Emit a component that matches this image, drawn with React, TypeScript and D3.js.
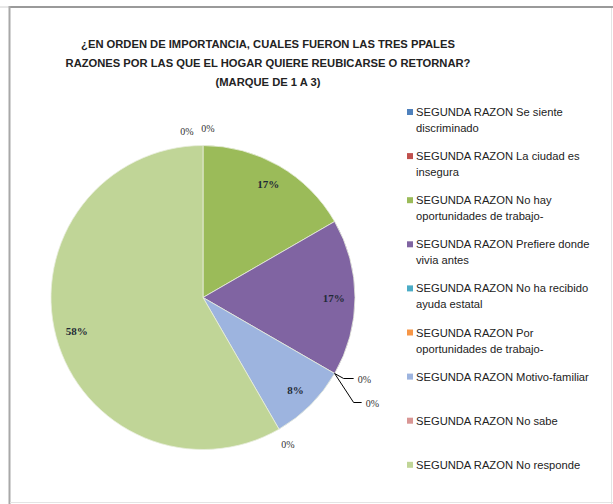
import React from "react";
import * as d3 from "d3";

const titleLines = [
  "¿EN ORDEN DE IMPORTANCIA, CUALES FUERON LAS TRES PPALES",
  "RAZONES POR LAS QUE EL HOGAR QUIERE REUBICARSE O RETORNAR?",
  "(MARQUE DE 1 A 3)",
];

const categories = [
  "SEGUNDA RAZON Se siente discriminado",
  "SEGUNDA RAZON La ciudad es insegura",
  "SEGUNDA RAZON No hay oportunidades de trabajo-",
  "SEGUNDA RAZON Prefiere donde vivia antes",
  "SEGUNDA RAZON No ha recibido ayuda estatal",
  "SEGUNDA RAZON Por oportunidades de trabajo-",
  "SEGUNDA RAZON Motivo-familiar",
  "SEGUNDA RAZON No sabe",
  "SEGUNDA RAZON No responde",
];

// counts (out of 12)
const values = [0, 0, 2, 2, 0, 0, 1, 0, 7];

const colors = [
  "#4F81BD",
  "#C0504D",
  "#9BBB59",
  "#8064A2",
  "#4BACC6",
  "#F79646",
  "#9DB4DF",
  "#D99694",
  "#C0D597",
];

const W = 613;
const H = 504;
const cx = 203;
const cy = 297.5;
const R = 152;

function wrap(s: string, max: number): string[] {
  const words = s.split(" ");
  const lines: string[] = [];
  let cur = "";
  for (const w of words) {
    const next = cur ? cur + " " + w : w;
    if (next.length > max && cur) {
      lines.push(cur);
      cur = w;
    } else cur = next;
  }
  if (cur) lines.push(cur);
  return lines;
}

export default function App() {
  const total = d3.sum(values);
  const pie = d3
    .pie<number>()
    .sort(null)
    .value((d) => d)
    .startAngle(0)
    .endAngle(2 * Math.PI);
  const arcs = pie(values);
  const arcGen = d3.arc<d3.PieArcDatum<number>>().innerRadius(0).outerRadius(R);
  const labelArc = d3
    .arc<d3.PieArcDatum<number>>()
    .innerRadius(R * 0.86)
    .outerRadius(R * 0.86);
  const fmt = (v: number) => `${Math.round((v / total) * 100)}%`;

  // zero-slice label placement offsets (layout)
  const zeroPlacement: Record<number, { dx: number; dy: number; leader?: [number, number][] }> = {
    0: { dx: -16, dy: -14 },
    1: { dx: 5, dy: -17 },
    4: { dx: 23, dy: 6, leader: [[9, 5], [19, 5]] },
    5: { dx: 31, dy: 30, leader: [[19, 29], [27, 29]] },
    7: { dx: 0, dy: 0 },
  };

  const legendX = 410;
  const legendY0 = 112;
  const legendStep = 44.1;
  const font = "'Liberation Sans Narrow', 'Arial Narrow', 'Liberation Sans', sans-serif";

  return (
    <div style={{ position: "fixed", left: 0, top: 0 }}>
      <svg width={W} height={H} style={{ display: "block", background: "#fff" }}>
        <rect x={0} y={0} width={W} height={H} fill="#fff" />
        {/* frame */}
        <line x1={0} y1={7} x2={9} y2={7} stroke="#d0d0d0" strokeWidth={1} />
        <line x1={10} y1={7} x2={W} y2={7} stroke="#9a9a9a" strokeWidth={2} />
        <line x1={9.5} y1={6} x2={9.5} y2={H} stroke="#a8a8a8" strokeWidth={2} />
        <line x1={611.5} y1={8} x2={611.5} y2={H} stroke="#e4e4e4" strokeWidth={1} />
        <line x1={10} y1={502.5} x2={W} y2={502.5} stroke="#e4e4e4" strokeWidth={1} />

        {/* title */}
        {titleLines.map((t, i) => (
          <text
            key={i}
            x={268}
            y={44 + i * 19}
            textAnchor="middle"
            dominantBaseline="central"
            fontFamily={font}
            fontWeight="bold"
            fontSize={11.2}
            fill="#222"
          >
            {t}
          </text>
        ))}

        {/* pie */}
        <g transform={`translate(${cx},${cy})`}>
          {arcs.map((a, i) =>
            a.value > 0 ? (
              <path key={i} d={arcGen(a) || ""} fill={colors[i]} stroke="#e8eedd" strokeWidth={0.8} />
            ) : null
          )}
          {arcs.map((a, i) => {
            if (a.value > 0) {
              const [lx, ly] = labelArc.centroid(a);
              return (
                <text
                  key={"l" + i}
                  x={lx}
                  y={ly}
                  textAnchor="middle"
                  dominantBaseline="central"
                  fontFamily="'Liberation Serif', serif"
                  fontSize={11}
                  fontWeight="bold"
                  fill="#1f2a36"
                >
                  {fmt(a.value)}
                </text>
              );
            }
            const ang = a.startAngle;
            const ax = Math.sin(ang) * R;
            const ay = -Math.cos(ang) * R;
            const p = zeroPlacement[i] || { dx: 0, dy: 0 };
            let bx = ax + p.dx;
            let by = ay + p.dy;
            if (i === 7) {
              bx = Math.sin(ang) * (R + 18);
              by = -Math.cos(ang) * (R + 18);
            }
            return (
              <g key={"z" + i}>
                {p.leader ? (
                  <polyline
                    points={[[ax, ay], ...p.leader.map(([x, y]) => [ax + x, ay + y])]
                      .map((q) => q.join(","))
                      .join(" ")}
                    fill="none"
                    stroke="#000"
                    strokeWidth={1}
                  />
                ) : null}
                <text
                  x={bx}
                  y={by}
                  textAnchor={p.leader ? "start" : "middle"}
                  dominantBaseline="central"
                  fontFamily="'Liberation Serif', serif"
                  fontSize={10}
                  fill="#333"
                >
                  {fmt(a.value)}
                </text>
              </g>
            );
          })}
        </g>

        {/* legend */}
        {categories.map((c, i) => {
          const lines = wrap(c, 29);
          const y = legendY0 + i * legendStep;
          return (
            <g key={"lg" + i}>
              <rect x={legendX - 3} y={y - 3} width={6} height={6} fill={colors[i]} />
              {lines.map((ln, j) => (
                <text
                  key={j}
                  x={legendX + 6}
                  y={y + j * 16}
                  dominantBaseline="central"
                  fontFamily={font}
                  fontSize={11.2}
                  fill="#222"
                >
                  {ln}
                </text>
              ))}
            </g>
          );
        })}
      </svg>
    </div>
  );
}
